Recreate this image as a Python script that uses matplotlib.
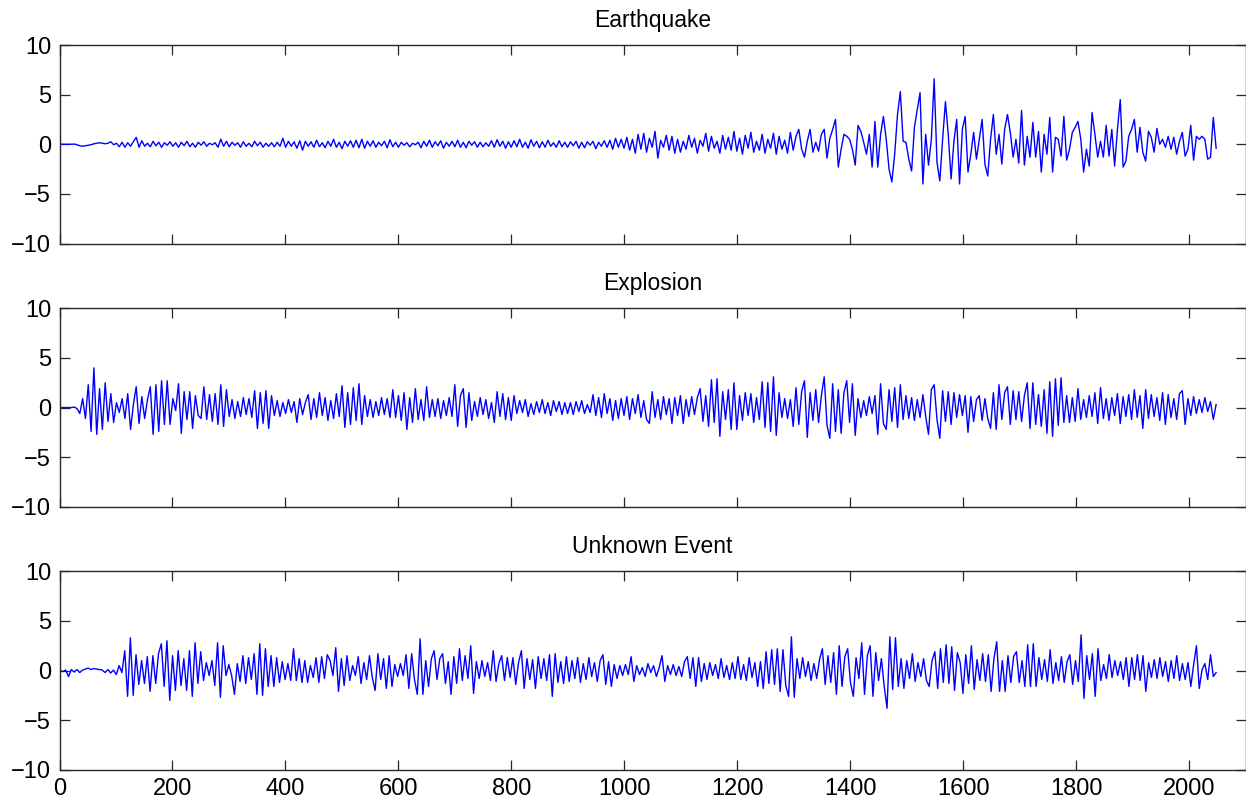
import numpy as np
import matplotlib
matplotlib.use("Agg")
import matplotlib.pyplot as plt

titles = ["Earthquake", "Explosion", "Unknown Event"]
y_ticks = [-10, -5, 0, 5, 10]
x_ticks = [0, 200, 400, 600, 800, 1000, 1200, 1400, 1600, 1800, 2000]
n_samples = 2048

earthquake = [
    0, 0, 0, 0, 0, 0.02, -0.05, -0.15, -0.2, -0.15, -0.1, -0.05, 0.05, 0.1, 0.15, 0.1, 0.05, 0.1, 0.25, -0.05,
    0.1, -0.25, 0.2, -0.3, 0.15, -0.2, 0.25, 0.7, -0.3, 0.35, -0.2, 0.1, -0.25, 0.3, -0.15, 0.2, -0.3, 0.15, -0.1, 0.25,
    -0.2, 0.15, -0.3, 0.2, -0.15, 0.3, -0.25, 0.1, -0.3, 0.2, -0.1, 0.25, -0.2, 0.1, -0.05, 0.15, -0.3, 0.5, -0.2, 0.3,
    -0.25, 0.2, -0.1, 0.15, -0.3, 0.25, -0.2, 0.1, -0.25, 0.3, -0.15, 0.2, -0.3, 0.1, -0.2, 0.15, -0.25, 0.2, -0.2, 0.6,
    -0.3, 0.3, -0.2, 0.25, -0.4, 0.35, -0.6, 0.3, -0.2, 0.25, -0.3, 0.4, -0.25, 0.15, -0.35, 0.3, -0.2, 0.5, -0.3, 0.2,
    -0.45, 0.3, -0.2, 0.35, -0.3, 0.4, -0.35, 0.5, -0.4, 0.3, -0.2, 0.35, -0.3, 0.2, -0.15, 0.3, -0.35, 0.45, -0.25, 0.2,
    -0.3, 0.2, -0.1, 0.15, -0.25, 0.1, -0.05, 0.2, -0.35, 0.3, -0.2, 0.4, -0.3, 0.25, -0.15, 0.35, -0.4, 0.2, -0.2, 0.3,
    -0.25, 0.4, -0.3, 0.2, -0.35, 0.3, -0.1, 0.25, -0.3, 0.2, -0.25, 0.15, -0.2, 0.35, -0.3, 0.45, -0.2, 0.3, -0.4, 0.25,
    -0.3, 0.35, -0.25, 0.5, -0.3, 0.2, -0.4, 0.45, -0.2, 0.3, -0.35, 0.25, -0.3, 0.4, -0.2, 0.15, -0.3, 0.35, -0.25, 0.2,
    -0.3, 0.25, -0.15, 0.3, -0.4, 0.2, -0.35, 0.25, -0.1, 0.3, -0.45, 0.2, -0.2, 0.35, -0.3, 0.4, -0.5, 0.6, -0.3, 0.5,
    -0.4, 0.7, -0.6, 0.5, -0.9, 1.0, -0.5, 1.1, -0.8, 0.6, -0.3, 1.3, -1.4, 0.4, -0.3, 0.9, -0.6, 0.8, -0.9, 0.5,
    -0.8, 0.3, -0.5, 0.9, -0.3, 0.6, -0.9, 0.4, -0.2, 1.1, -0.7, 0.8, -0.4, 0.3, -0.9, 0.9, -0.5, 0.7, -0.6, 1.3,
    -0.7, 0.6, -1.0, 0.9, -0.4, 1.2, -0.8, 0.3, -0.6, 1.0, -0.9, 0.5, -0.4, 1.1, -1.0, 0.8, -0.5, 0.4, -0.9, 1.2,
    -0.6, 0.8, 1.5, -0.5, -1.3, 0.3, 1.5, -0.8, 0.2, -0.7, 1.0, 1.5, -1.4, 0.6, 1.5, 2.5, -2.3, -0.5, 1.0, 0.8,
    0.5, -0.5, -2.1, 1.9, 1.3, 0.2, -1.0, 1.0, -2.3, 2.3, -2.3, 1.0, 2.8, 0.5, -2.5, -3.8, -1.0, 3.0, 5.3, 0.3,
    0.2, -1.5, -2.7, 1.7, 3.5, 5.2, -4.0, 1.0, -2.1, 0.5, 6.6, -1.8, -3.7, 0.5, 4.3, 1.0, -3.5, 0.3, 2.5, -4.0,
    1.5, 2.8, -2.8, -1.0, 1.2, -1.5, 0.5, 2.5, -2.0, -3.2, 0.5, 3.0, -1.0, 1.0, -2.0, 1.5, 3.0, 1.2, -1.3, 0.5,
    -1.9, 3.4, -2.1, 0.8, -1.3, 2.2, -1.3, 1.3, -2.8, 1.0, -1.0, 2.7, -2.8, 0.7, 0.5, -1.2, 2.8, -1.6, -0.5, 1.2,
    1.7, 2.3, 0.5, -2.8, -0.5, -2.2, 3.2, 1.0, -1.3, 0.3, -1.3, 1.9, -1.2, 1.5, -2.2, 1.5, 4.5, -2.3, -1.7, 0.8,
    1.5, 2.5, -0.8, 1.7, -0.8, -1.7, 1.3, 0.7, -0.8, 1.6, 0.0, 0.5, -0.3, 0.8, -0.5, 0.7, -1.0, 0.3, 1.2, -1.2,
    -0.5, 1.9, -1.6, 0.8, 0.5, 0.8, 0.5, -1.5, -1.3, 2.7, -0.4,
]

explosion = [
    0, 0, 0, 0, 0, 0.05, -0.1, -0.6, 0.9, -1.1, 2.3, -2.4, 4.0, -2.7, 1.9, -2.2, 2.5, -1.4, 1.4, -1.5,
    0.5, -0.5, 0.9, -1.1, 1.4, -2.2, 0.3, 2.1, -1.6, 1.1, -1.1, 0.8, 2.1, -2.7, 2.3, -2.4, 2.7, -1.7, 2.7, -1.7,
    0.9, -0.3, 2.4, -2.6, 1.6, -1.2, 1.6, -2.1, 1.2, -0.8, -1.1, 2.1, -1.2, 1.3, -1.4, 1.4, -1.7, 2.3, -1.9, 1.8,
    -0.9, 0.8, -1.1, 0.6, -0.9, 1.0, -0.7, 0.9, -1.0, 1.7, -2.1, 1.5, -1.6, 1.7, -2.1, 1.2, -0.8, 0.7, -0.9, 0.5,
    -0.6, 0.8, -0.5, 0.6, -1.5, 0.9, -0.7, 0.5, 1.3, -1.2, 0.9, -1.0, 1.5, -0.8, 1.0, -1.3, 0.7, -1.1, 1.4, -0.9,
    2.2, -2.0, 1.5, -1.7, 2.0, -1.3, 2.4, -1.7, 1.2, -0.9, 0.8, -1.0, 0.6, -0.8, 1.0, -0.7, 0.9, -1.0, 1.8, -1.0,
    1.2, -1.3, 1.5, -2.2, 1.0, -1.5, 1.9, -1.2, 0.8, -1.3, 2.1, -1.0, 0.8, -0.9, 0.9, -1.1, 0.7, -0.8, 1.0, -0.9,
    2.3, -1.9, 1.2, 1.9, -2.0, 1.5, -1.3, 0.6, -0.9, 1.0, -0.7, 0.8, -1.1, 0.5, -1.5, 1.6, -0.9, 1.4, -1.2, 1.0,
    -1.3, 1.2, -0.6, 0.7, -0.5, 0.8, -0.9, 0.4, -0.7, 0.6, -0.5, 0.8, -0.6, 0.5, -0.8, 0.7, -0.4, 0.6, -0.7, 0.5,
    -0.6, 0.5, -0.7, 0.6, -0.4, 0.7, -0.6, 0.3, -0.5, 1.3, -0.8, 1.0, -1.0, 1.4, -0.6, 0.9, -1.3, 0.7, -1.1, 0.9,
    -0.8, 1.1, -1.2, 0.9, -0.6, 1.3, -1.0, 0.7, -1.2, -1.6, 1.6, -1.0, 0.8, -1.2, 1.1, -0.7, 0.9, -1.6, 1.0, -0.8,
    1.2, -1.6, 0.8, -0.9, 1.1, -0.7, 1.0, 1.9, -1.4, 1.2, -1.9, 2.8, -1.5, 2.9, -2.9, 1.6, -1.2, 1.8, -2.2, 2.5,
    -2.2, 1.2, -1.3, 1.5, -0.8, 1.4, -1.5, 1.0, -1.2, 2.6, -2.0, 2.5, -2.4, 3.1, -2.8, 1.5, -1.0, 0.9, -1.1, 0.8,
    -1.9, 2.0, -1.7, 1.6, 2.7, -3.0, 1.5, -1.3, 1.8, -1.5, 1.2, 3.1, -1.8, -3.1, 2.4, -2.4, 1.8, -2.6, 1.5, 2.7,
    -1.5, 2.4, -2.8, 0.9, -1.0, 0.7, -0.8, 1.1, -0.6, 1.2, -2.7, 2.4, -1.6, -2.2, 1.8, -1.4, 2.0, -2.0, 2.3, -1.2,
    1.2, -1.1, 1.0, -1.3, 0.8, -1.0, 1.3, -0.9, -2.7, 1.8, 2.3, -1.2, -3.1, 1.7, -1.4, 1.6, -1.7, 1.5, -1.0, 1.3,
    -0.8, 1.2, -2.5, 1.1, -1.4, 0.8, 1.2, -1.3, 0.9, -1.1, -2.1, 1.5, -2.2, 2.3, -1.2, 1.5, 2.1, -1.7, 1.7, -1.2,
    1.6, -1.4, 1.2, 2.5, -2.1, 2.5, -1.7, 1.3, -1.9, 1.8, -2.6, 2.6, -2.9, 2.9, -1.8, 3.0, -1.5, 1.2, -1.5, 1.0,
    -1.4, 1.9, -1.2, 0.8, -1.0, 1.2, -0.9, 1.5, -1.6, 2.0, -1.1, 0.9, -1.3, 1.0, -0.8, 1.4, -1.6, 1.1, -0.9, 1.3,
    -1.2, 1.8, -1.0, 1.2, -2.1, 1.8, -1.1, 1.3, -0.9, 1.0, -1.3, 1.5, -1.7, 1.3, -1.0, 0.9, -1.2, 1.4, 1.7, -1.7,
    0.9, -0.8, 1.1, -0.6, 0.8, -0.5, 1.0, -0.4, 0.6, -1.2, 0.3,
]

unknown_event = [
    0, -0.1, 0.05, -0.6, 0.1, -0.15, 0.1, -0.2, 0.05, 0.15, 0.25, 0.1, 0.2, 0.15, 0.1, 0.05, -0.2, 0.1, -0.25, 0.05,
    -0.4, 0.5, -0.2, 2.0, -2.6, 3.3, -2.5, 1.6, -1.4, 1.0, -1.3, 1.4, -2.1, 1.5, -1.3, 1.7, 2.7, -1.6, 3.0, -3.0,
    1.5, -2.0, 2.0, -1.5, 1.2, -2.0, 2.0, -2.6, 2.8, -1.3, 1.9, -1.0, 0.8, -0.5, 1.0, -1.5, 2.8, -2.7, 2.5, -0.5,
    0.6, -0.5, -2.4, 0.7, -1.1, 1.5, -1.3, 1.3, -0.9, 1.7, -2.4, 2.7, -2.5, 2.2, -1.6, 1.5, -1.6, 1.3, -1.2, 0.9,
    -0.9, 0.7, -1.0, 2.2, -1.0, 1.2, -1.2, 1.0, -1.2, 0.5, -0.7, 1.3, -1.2, 1.4, -0.8, 1.6, 1.0, -0.5, 2.3, -2.1,
    1.2, -1.5, 1.5, -1.0, 0.5, -0.5, 1.4, -1.3, 0.8, -0.9, 1.5, -0.7, -2.0, 1.7, -0.9, 1.2, -1.8, 1.5, -1.6, 0.6,
    -0.6, 0.7, -0.5, 1.6, -1.8, 1.7, -0.9, -2.4, 3.2, -2.4, 1.0, -1.6, 1.2, 2.0, -0.9, 1.2, 1.7, -1.3, 0.9, -2.4,
    1.4, -1.3, 2.2, -1.0, 1.5, -0.8, 2.5, -2.3, 0.9, -0.8, 1.0, -0.6, 0.8, -1.0, 2.0, -1.1, 0.7, 1.5, -1.0, 1.3,
    -0.7, 1.3, -1.4, 0.8, 2.0, -1.8, 1.2, -0.9, 1.1, -1.8, 1.4, -0.8, 1.2, -1.0, 1.6, -2.6, 1.7, -1.2, 0.9, -1.3,
    1.4, -1.1, 1.0, -0.8, 1.3, -1.2, 0.7, -0.9, 1.3, -0.6, 0.8, -1.1, 1.0, 1.6, -1.4, 0.9, -1.6, 0.6, -0.8, 0.5,
    -0.5, 0.6, -0.4, 1.4, -1.1, 0.5, -0.4, 0.3, -0.6, 0.7, -0.2, 0.5, -0.6, 0.3, 1.5, -1.1, 0.5, -0.4, 0.6, -0.5,
    0.4, -0.6, 0.9, 1.4, -0.8, 1.3, -1.6, 1.3, -1.1, 0.7, -0.9, 0.8, -0.5, 0.6, -0.8, 1.2, -0.7, 0.5, -0.9, 0.8,
    -0.8, 1.4, -0.9, 0.6, -1.0, 1.3, -0.7, 0.8, -1.6, 0.9, -1.8, 1.9, -1.3, 2.1, -1.4, 2.2, -2.1, 2.1, -1.5, -2.6,
    3.4, -2.7, 1.2, -0.8, 1.3, -0.6, 0.9, -1.0, 0.7, -0.8, 1.1, 2.2, -1.4, 1.5, -1.2, 1.8, -2.4, 2.5, -1.6, 1.4,
    2.2, -1.2, -2.6, 1.3, -0.8, 2.8, -2.4, 1.5, 2.5, -2.6, 1.8, -1.0, 1.2, -1.6, -3.8, 3.4, -1.9, 3.3, -1.6, 1.2,
    -1.8, 1.0, -0.8, 1.7, -1.1, 0.8, -0.6, 1.2, -1.0, -1.6, 1.0, 1.9, -1.8, 2.2, -1.2, 2.6, -1.3, 2.4, -2.0, 1.8,
    0.8, -2.3, 1.6, -1.3, 2.5, -1.9, 1.1, -1.0, 1.7, -1.1, 1.6, -2.1, 1.2, 2.9, -2.1, 1.0, -2.1, 1.5, -1.2, 1.4,
    1.9, -1.2, 1.0, -1.6, 2.6, -1.6, 2.7, -1.6, 1.3, -0.9, 1.1, -1.1, 2.1, -1.3, 0.8, -1.0, 1.4, -1.2, 0.9, 1.6,
    -1.4, 1.0, -1.1, 3.6, -2.8, 1.5, -0.9, 1.7, -2.6, 2.2, -1.0, 0.6, -0.8, 1.6, -0.7, 1.0, -0.5, 0.9, -0.9, 1.3,
    -1.6, 1.3, -0.9, 1.6, -1.0, 1.5, -2.1, 0.8, -0.7, 1.1, -0.8, 1.3, -0.6, 0.9, -1.1, 1.0, -0.8, 1.5, -1.0, 0.7,
    -0.9, 0.8, -1.6, 0.6, 2.5, -1.8, 0.1, 0.7, -0.9, 1.6, -0.6, -0.2,
]

series = [earthquake, explosion, unknown_event]

plt.rcParams['font.family'] = ['Liberation Sans', 'DejaVu Sans']

fig = plt.figure(figsize=(12.46, 8.02), dpi=100)
left = 59.5 / 1246
width = 1186 / 1246
tops = [45, 308.3, 571.3]
height_px = 198.5

for k, (ttl, vals) in enumerate(zip(titles, series)):
    bottom = 1 - (tops[k] + height_px) / 802
    ax = fig.add_axes([left, bottom, width, height_px / 802])
    t = np.linspace(1, n_samples, len(vals))
    ax.plot(t, vals, color='#0000FF', linewidth=1.0)
    ax.set_xlim(0, 2100)
    ax.set_ylim(-10, 10)
    ax.set_yticks(y_ticks)
    ax.set_yticklabels([str(v).replace('-', '\u2212') for v in y_ticks])
    ax.set_xticks(x_ticks)
    if k == 2:
        ax.set_xticklabels([str(v) for v in x_ticks])
    else:
        ax.set_xticklabels([])
    ax.tick_params(direction='in', length=7, width=0.9, top=True, right=True,
                   labelsize=17, pad=6, colors='#262626', labelcolor='black')
    for sp in ax.spines.values():
        sp.set_linewidth(1.0)
        sp.set_color('#262626')
    ax.set_title(ttl, fontsize=16.5, pad=13)

fig.savefig('out.png', dpi=100)
